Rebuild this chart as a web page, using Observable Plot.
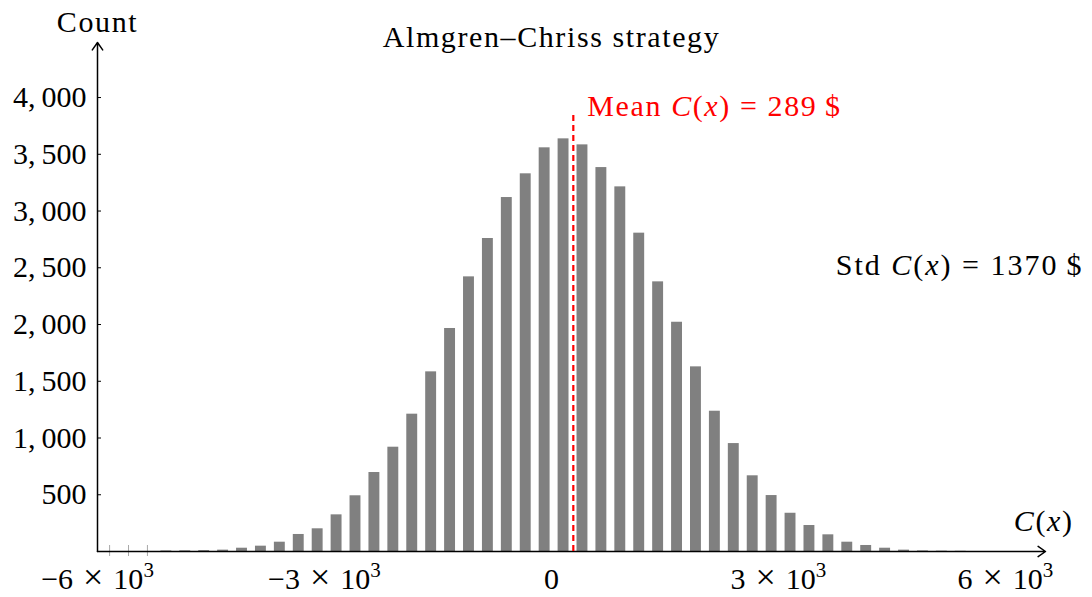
<!DOCTYPE html>
<html><head><meta charset="utf-8">
<script src="https://cdn.jsdelivr.net/npm/d3@7"></script>
<script src="https://cdn.jsdelivr.net/npm/@observablehq/plot@0.6"></script>
<style>body{margin:0;background:#fff}</style>
</head><body><div id="chart"></div>
<script>
// Histogram bin centers (C(x), $) and counts
const binCenters = [-5840,-5590,-5340,-5090,-4840,-4590,-4340,-4090,-3840,-3590,-3340,-3090,-2840,-2590,-2340,-2090,-1840,-1590,-1340,-1090,-840,-590,-340,-90,160,410,660,910,1160,1410,1660,1910,2160,2410,2660,2910,3160,3410,3660,3910,4160,4410,4660,4910,5160,5410];
const counts = [0,0,0,5,6,8,12,29,47,82,150,200,323,491,696,919,1210,1583,1965,2420,2758,3119,3328,3557,3636,3583,3383,3213,2805,2376,2020,1627,1236,951,667,493,337,229,147,82,53,29,12,5,3,2];
const binWidth = 250;

const xTicks = [-6000, -3000, 0, 3000, 6000];
const xTickLabels = ["−6 × 10³", "−3 × 10³", "0", "3 × 10³", "6 × 10³"];
const yTicks = [500, 1000, 1500, 2000, 2500, 3000, 3500, 4000];
const yTickLabels = ["500", "1,\u2009000", "1,\u2009500", "2,\u2009000", "2,\u2009500", "3,\u2009000", "3,\u2009500", "4,\u2009000"];
const xDomain = [-6000, 6530];
const yDomain = [0, 4485];

const meanValue = 289;
const stdValue = 1370;
const meanLineTop = 3860;
const stdLabelY = 2517;

const title = "Almgren–Chriss strategy";
const xLabel = "C(x)";
const yLabel = "Count";
const meanLabel = `Mean C(x) = ${meanValue}\u2009$`;
const stdLabel = `Std C(x) = ${stdValue}\u2009$`;

const bins = binCenters.map((c, i) => ({x1: c - binWidth / 2, x2: c + binWidth / 2, c, count: counts[i]}));

const chart = Plot.plot({
  width: 1092, height: 597,
  marginLeft: 97, marginRight: 47, marginTop: 42, marginBottom: 46,
  x: {domain: xDomain},
  y: {domain: yDomain},
  style: {fontFamily: "'Liberation Serif', serif", fontSize: "30px", color: "#000", background: "#fff"},
  marks: [
    Plot.rectY(bins.filter(d => d.count > 0), {x1: "x1", x2: "x2", y: "count", fill: "#808080", insetLeft: 4, insetRight: 4}),
    Plot.ruleX(bins.filter(d => d.count === 0), {x: "c", y1: 0, y2: 0, insetTop: -6, insetBottom: -5, stroke: "#a8a8a8", strokeWidth: 1}),
    Plot.ruleY(yTicks, {y: d => d, x1: xDomain[0], x2: xDomain[0], insetRight: -4, stroke: "#000", strokeWidth: 1}),
    Plot.arrow([0], {x1: xDomain[0], y1: 0, x2: xDomain[1], y2: 0, stroke: "#000", strokeWidth: 1.5, headLength: 9, headAngle: 70}),
    Plot.arrow([0], {x1: xDomain[0], y1: 0, x2: xDomain[0], y2: yDomain[1], stroke: "#000", strokeWidth: 1.5, headLength: 9, headAngle: 70}),
    Plot.ruleX([meanValue], {x: d => d, y1: 0, y2: meanLineTop, stroke: "#ff0000", strokeWidth: 2.2, strokeDasharray: "6,4"}),
    Plot.text([meanLabel], {x: meanValue, y: meanLineTop, text: d => d, textAnchor: "start", dx: 14, dy: -6.6, fill: "#ff0000"}),
    Plot.text([stdLabel], {frameAnchor: "right", y: stdLabelY, text: d => d, textAnchor: "end", dx: 38, fill: "#000"}),
    Plot.text([title], {frameAnchor: "top", text: d => d, dx: -20, dy: -4.9, lineAnchor: "middle", fill: "#000"}),
    Plot.text([yLabel], {frameAnchor: "top-left", text: d => d, dy: -20.3, lineAnchor: "middle", textAnchor: "middle", fill: "#000"}),
    Plot.text([xLabel], {frameAnchor: "bottom-right", text: d => d, textAnchor: "end", dx: 28, dy: -30.6, lineAnchor: "middle", fill: "#000"}),
    Plot.axisX({ticks: xTicks, tickFormat: d => xTickLabels[xTicks.indexOf(d)], tickSize: 0, tickPadding: 16, label: null}),
    Plot.axisY({ticks: yTicks, tickFormat: d => yTickLabels[yTicks.indexOf(d)], tickSize: 0, tickPadding: 11, label: null})
  ]
});

const NS = "http://www.w3.org/2000/svg";
function rebuild(t, parts) {
  t.textContent = "";
  for (const p of parts) {
    if (!p.s) continue;
    const sp = document.createElementNS(NS, "tspan");
    sp.textContent = p.s;
    if (p.it) sp.setAttribute("font-style", "italic");
    if (p.big) sp.setAttribute("font-size", "36px");
    if (p.sup) { sp.setAttribute("font-size", "21px"); sp.setAttribute("dy", "-12"); }
    t.appendChild(sp);
  }
}
const spaced = new Set([title, xLabel, yLabel, meanLabel, stdLabel]);
chart.querySelectorAll("text").forEach(t => {
  if (t.querySelector("tspan")) return;
  const s = t.textContent;
  if (spaced.has(s)) t.setAttribute("letter-spacing", s === stdLabel ? "2px" : "1.6px");
  const k = s.indexOf("C(x)");
  if (k >= 0) {
    rebuild(t, [{s: s.slice(0, k)}, {s: "C", it: true}, {s: "("}, {s: "x", it: true}, {s: ")" + s.slice(k + 4)}]);
  } else if (s.endsWith("³")) {
    const j = s.indexOf("×");
    rebuild(t, [{s: s.slice(0, j) + "\u200A"}, {s: "×", big: true}, {s: "\u200A" + s.slice(j + 1, -1)}, {s: "3", sup: true}]);
  }
});

document.getElementById("chart").appendChild(chart);
</script>
</body></html>
